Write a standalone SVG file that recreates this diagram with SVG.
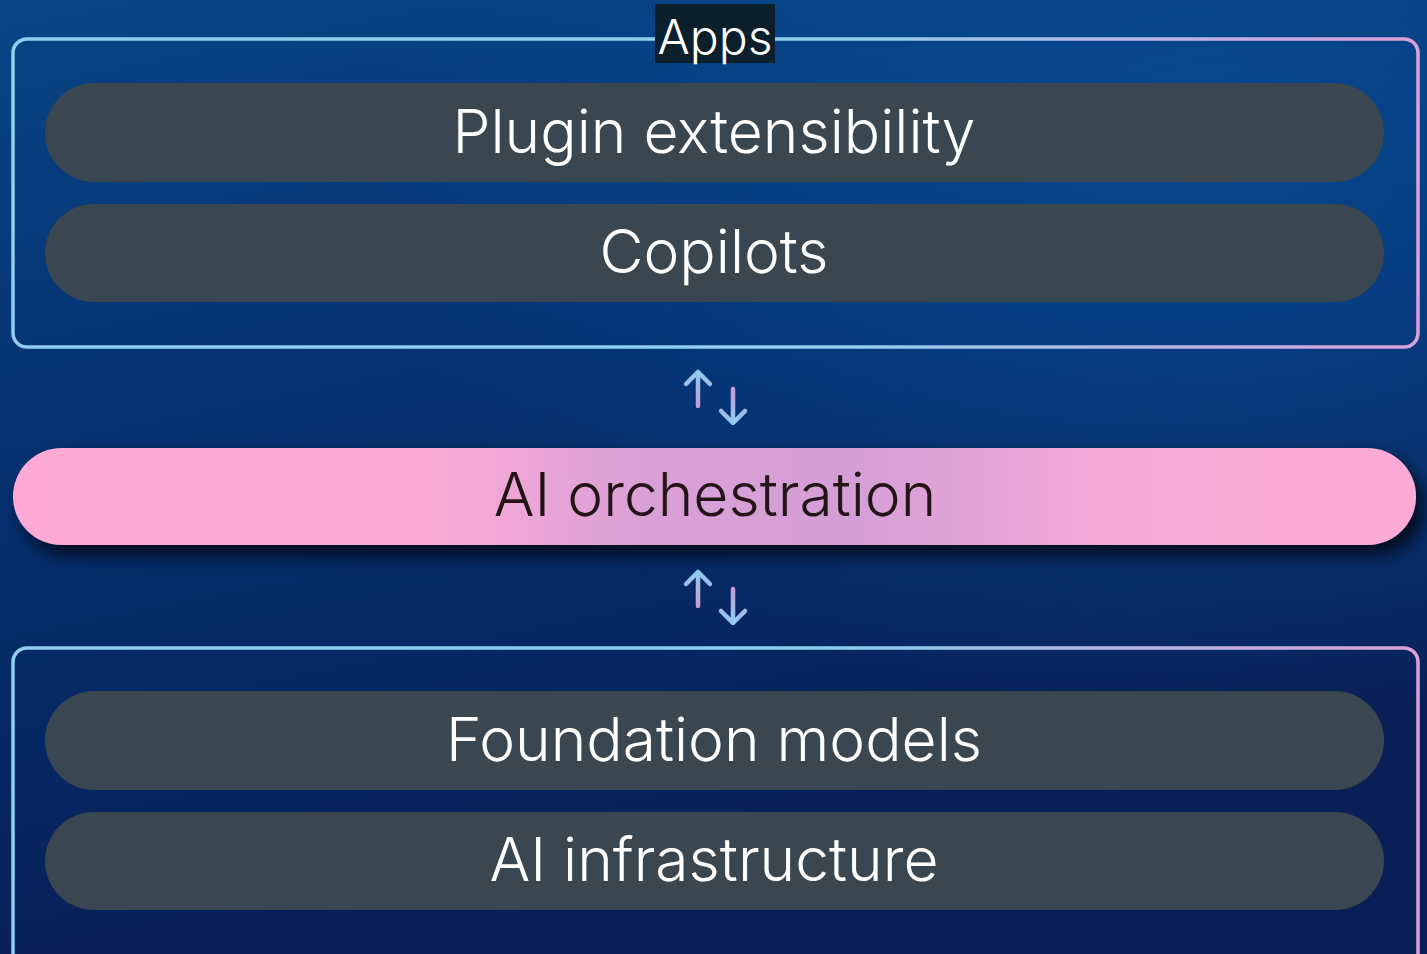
<svg xmlns="http://www.w3.org/2000/svg" width="1427" height="954" viewBox="0 0 1427 954">
<defs>
<linearGradient id="bg" x1="0" y1="0" x2="0.3" y2="1">
<stop offset="0" stop-color="#0a4585"/>
<stop offset="0.45" stop-color="#043070"/>
<stop offset="1" stop-color="#0a1f55"/>
</linearGradient>
<radialGradient id="glow" cx="0.85" cy="0.15" r="0.6">
<stop offset="0" stop-color="#0a55a0" stop-opacity="0.6"/>
<stop offset="1" stop-color="#0a55a0" stop-opacity="0"/>
</radialGradient>
<linearGradient id="frame" x1="0" y1="0" x2="1" y2="0">
<stop offset="0" stop-color="#90cdf2"/>
<stop offset="0.6" stop-color="#90cdf2"/>
<stop offset="1" stop-color="#dca0dc"/>
</linearGradient>
<linearGradient id="orch" x1="0" y1="0" x2="1" y2="0">
<stop offset="0" stop-color="#ffaad6"/>
<stop offset="0.3" stop-color="#fcaad6"/>
<stop offset="0.45" stop-color="#d9a0d6"/>
<stop offset="0.6" stop-color="#d49fd6"/>
<stop offset="0.8" stop-color="#f8aad6"/>
<stop offset="1" stop-color="#ffaad6"/>
</linearGradient>
<linearGradient id="arr" x1="0" y1="0" x2="0" y2="1">
<stop offset="0" stop-color="#90cdf2"/>
<stop offset="1" stop-color="#c49ad6"/>
</linearGradient>
<linearGradient id="arr2" x1="0" y1="1" x2="0" y2="0">
<stop offset="0" stop-color="#90cdf2"/>
<stop offset="1" stop-color="#c49ad6"/>
</linearGradient>
<filter id="sh" x="-5%" y="-30%" width="110%" height="170%">
<feGaussianBlur in="SourceAlpha" stdDeviation="9"/>
<feOffset dx="8" dy="10"/>
<feComponentTransfer><feFuncA type="linear" slope="0.75"/></feComponentTransfer>
<feMerge><feMergeNode/><feMergeNode in="SourceGraphic"/></feMerge>
</filter>
</defs>
<style>
.frame{fill:none;stroke:url(#frame);stroke-width:3.5}
.pill{fill:#3a4750}
.lbl{font-family:Inter,"Open Sans","Liberation Sans",sans-serif;font-size:60.5px;font-weight:300;fill:#ffffff;text-anchor:middle}
.arrow{fill:none;stroke-width:4.5;stroke-linecap:round;stroke-linejoin:round}
</style>
<rect width="1427" height="954" fill="url(#bg)"/>
<rect width="1427" height="954" fill="url(#glow)"/>

<g id="apps-group">
<rect class="frame" x="13" y="39" width="1405" height="308" rx="14"/>
<rect x="655" y="4" width="120" height="59" fill="#0b1f2d"/>
<text x="715" y="54" font-family="Inter,'Open Sans','Liberation Sans',sans-serif" font-size="48" font-weight="300" fill="#ffffff" text-anchor="middle">Apps</text>
</g>
<g id="plugin">
<rect class="pill" x="45" y="83" width="1339" height="99" rx="49.5"/>
<text class="lbl" x="714" y="153">Plugin extensibility</text>
</g>
<g id="copilots">
<rect class="pill" x="45" y="204" width="1339" height="98" rx="49"/>
<text class="lbl" x="714" y="273">Copilots</text>
</g>
<g id="orchestration">
<rect x="13" y="448" width="1403" height="97" rx="48.5" fill="url(#orch)" filter="url(#sh)"/>
<text class="lbl" x="715" y="516" style="fill:#231417">AI orchestration</text>
</g>
<g id="platform-group">
<rect class="frame" x="13" y="648" width="1405" height="330" rx="14"/>
</g>
<g id="foundation">
<rect class="pill" x="45" y="691" width="1339" height="99" rx="49.5"/>
<text class="lbl" x="714" y="761">Foundation models</text>
</g>
<g id="infra">
<rect class="pill" x="45" y="812" width="1339" height="98" rx="49"/>
<text class="lbl" x="714" y="881">AI infrastructure</text>
</g>
<g id="connectors">
<g>
<path class="arrow" stroke="url(#arr)" d="M698 372 L698 406 M686 384 L698 372 L710 384"/>
<path class="arrow" stroke="url(#arr2)" d="M733 389 L733 423 M721 411 L733 423 L745 411"/>
</g>
<g transform="translate(0,200)">
<path class="arrow" stroke="url(#arr)" d="M698 372 L698 406 M686 384 L698 372 L710 384"/>
<path class="arrow" stroke="url(#arr2)" d="M733 389 L733 423 M721 411 L733 423 L745 411"/>
</g>
</g>
</svg>
